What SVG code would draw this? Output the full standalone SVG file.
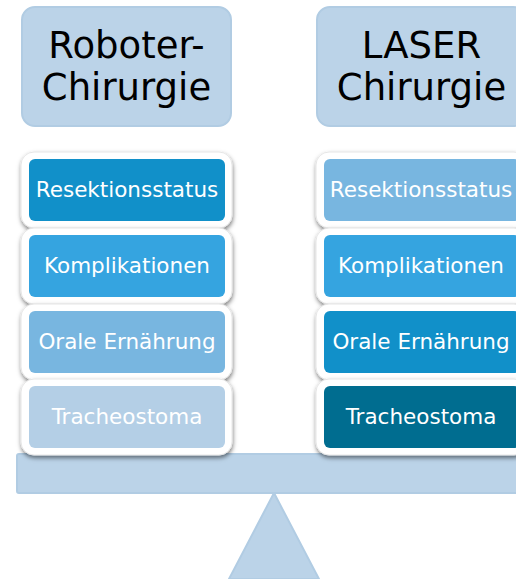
<svg xmlns="http://www.w3.org/2000/svg" width="516" height="579" viewBox="0 0 516 579">
  <defs>
    <filter id="shadow" x="-10%" y="-10%" width="120%" height="140%">
      <feDropShadow dx="0.5" dy="2.5" stdDeviation="2" flood-color="#000" flood-opacity="0.5"/>
    </filter>
  </defs>
  <style>
    .head { fill: #bbd3e8; stroke: #b1cce3; stroke-width: 2; }
    .headtxt { font-family: "DejaVu Sans", Verdana, sans-serif; font-size: 37px; fill: #000; text-anchor: middle; }
    .frame { fill: #ffffff; stroke: #e6e6e6; stroke-width: 1; filter: url(#shadow); }
    .lbl { font-family: "DejaVu Sans", Verdana, sans-serif; font-size: 21.5px; fill: #ffffff; text-anchor: middle; }
    .c1 { fill: #1190c9; }
    .c2 { fill: #35a4e0; }
    .c3 { fill: #78b6e0; }
    .c4 { fill: #b4cfe6; }
    .c5 { fill: #006d90; }
    .beam { fill: #bbd3e8; stroke: #b1cce3; stroke-width: 2; }
  </style>

  <!-- balance: fulcrum and beam -->
  <g id="balance">
    <polygon class="beam" points="274,493 229,579 319,579"/>
    <rect class="beam" x="17" y="454" width="514" height="39" rx="2"/>
  </g>

  <!-- column headers -->
  <g id="head-robot">
    <rect class="head" x="22" y="7" width="209" height="119" rx="13"/>
    <text class="headtxt" x="126.5" y="58">Roboter-</text>
    <text class="headtxt" x="126.5" y="100">Chirurgie</text>
  </g>
  <g id="head-laser">
    <rect class="head" x="317" y="7" width="209" height="119" rx="13"/>
    <text class="headtxt" x="421.5" y="58">LASER</text>
    <text class="headtxt" x="421.5" y="100">Chirurgie</text>
  </g>

  <!-- left column: robotic surgery -->
  <g id="l-resektion">
    <rect class="frame" x="21" y="152" width="211" height="76" rx="13"/>
    <rect class="c1" x="29" y="159" width="196" height="62" rx="6"/>
    <text class="lbl" x="127" y="197">Resektionsstatus</text>
  </g>
  <g id="l-komplikationen">
    <rect class="frame" x="21" y="228" width="211" height="76" rx="13"/>
    <rect class="c2" x="29" y="235" width="196" height="62" rx="6"/>
    <text class="lbl" x="127" y="273">Komplikationen</text>
  </g>
  <g id="l-ernaehrung">
    <rect class="frame" x="21" y="304" width="211" height="76" rx="13"/>
    <rect class="c3" x="29" y="311" width="196" height="62" rx="6"/>
    <text class="lbl" x="127" y="349">Orale Ernährung</text>
  </g>
  <g id="l-tracheostoma">
    <rect class="frame" x="21" y="379" width="211" height="76" rx="13"/>
    <rect class="c4" x="29" y="386" width="196" height="62" rx="6"/>
    <text class="lbl" x="127" y="424">Tracheostoma</text>
  </g>

  <!-- right column: laser surgery -->
  <g id="r-resektion">
    <rect class="frame" x="316" y="152" width="211" height="76" rx="13"/>
    <rect class="c3" x="324" y="159" width="196" height="62" rx="6"/>
    <text class="lbl" x="421" y="197">Resektionsstatus</text>
  </g>
  <g id="r-komplikationen">
    <rect class="frame" x="316" y="228" width="211" height="76" rx="13"/>
    <rect class="c2" x="324" y="235" width="196" height="62" rx="6"/>
    <text class="lbl" x="421" y="273">Komplikationen</text>
  </g>
  <g id="r-ernaehrung">
    <rect class="frame" x="316" y="304" width="211" height="76" rx="13"/>
    <rect class="c1" x="324" y="311" width="196" height="62" rx="6"/>
    <text class="lbl" x="421" y="349">Orale Ernährung</text>
  </g>
  <g id="r-tracheostoma">
    <rect class="frame" x="316" y="379" width="211" height="76" rx="13"/>
    <rect class="c5" x="324" y="386" width="196" height="62" rx="6"/>
    <text class="lbl" x="421" y="424">Tracheostoma</text>
  </g>
</svg>
